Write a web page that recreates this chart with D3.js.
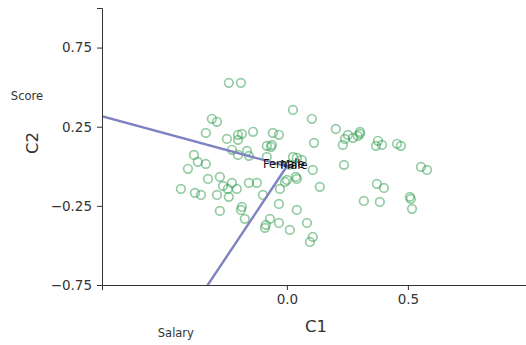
<!DOCTYPE html>
<html><head><meta charset="utf-8">
<script src="https://cdn.jsdelivr.net/npm/d3@7"></script>
<style>body{margin:0;background:#fff}svg{display:block;font-family:"DejaVu Sans",sans-serif}</style>
</head><body><svg id="c" width="526" height="345"></svg>
<script>
// Scores on the first two components
const pcX = [-0.240,-0.190,0.025,0.103,-0.310,-0.289,-0.335,-0.140,-0.202,-0.186,-0.202,-0.248,-0.058,-0.033,-0.083,-0.066,-0.062,-0.227,-0.165,-0.202,-0.157,-0.083,0.112,0.202,0.231,0.240,0.252,0.273,0.293,0.302,0.302,0.368,0.376,0.393,0.455,0.471,0.236,0.554,0.579,-0.384,-0.368,-0.335,-0.409,0.025,0.041,0.062,0.107,0.037,0.041,-0.008,-0.326,-0.277,-0.264,-0.227,-0.207,-0.244,-0.240,-0.157,-0.124,-0.438,-0.380,-0.355,-0.289,-0.029,0.136,-0.099,0.372,0.401,0.318,0.384,0.508,0.512,0.517,-0.033,0.041,-0.186,-0.190,-0.174,-0.277,-0.070,-0.033,-0.087,-0.091,0.083,0.012,0.107,0.095,0.000,0.010];
const pcY = [0.527,0.527,0.356,0.300,0.300,0.281,0.211,0.218,0.199,0.205,0.167,0.173,0.211,0.199,0.129,0.123,0.135,0.104,0.097,0.072,0.066,0.059,0.148,0.236,0.135,0.173,0.198,0.180,0.192,0.217,0.205,0.129,0.161,0.135,0.142,0.129,0.009,-0.004,-0.023,0.072,0.028,0.015,-0.016,0.059,0.053,0.040,-0.023,-0.067,-0.080,-0.099,-0.080,-0.067,-0.124,-0.105,-0.143,-0.143,-0.193,-0.105,-0.105,-0.143,-0.168,-0.181,-0.181,-0.143,-0.130,-0.181,-0.111,-0.137,-0.219,-0.225,-0.193,-0.206,-0.269,-0.238,-0.276,-0.257,-0.276,-0.332,-0.282,-0.332,-0.358,-0.370,-0.389,-0.358,-0.402,-0.446,-0.478,-0.086,0.010];
// Variable loadings
const features = ["Score","Salary","Female","Male"];
const loadX = [-0.934,-0.399,-0.011,0.025];
const loadY = [0.387,-0.915,0.013,0.008];
const xTicks = [0.0,0.5];
const yTicks = [-0.75,-0.25,0.25,0.75];

const svg = d3.select("#c");
const L=102, R=526, T=8, B=285;
const x = d3.scaleLinear().domain([-0.764,0.988]).range([L,R]);
const y = d3.scaleLinear().domain([-0.75,1.0]).range([B,T]);

svg.append("defs").append("clipPath").attr("id","clip")
  .append("rect").attr("x",L).attr("y",T).attr("width",R-L).attr("height",B-T);

// points
svg.append("g").selectAll("circle").data(pcX).join("circle")
  .attr("cx",(d)=>x(d)).attr("cy",(d,i)=>y(pcY[i])).attr("r",4.3)
  .attr("fill","none").attr("stroke","#2a9a48").attr("stroke-opacity",0.5).attr("stroke-width",1.7);

// loading lines
svg.append("g").attr("clip-path","url(#clip)").selectAll("line").data(features).join("line")
  .attr("x1",x(0)).attr("y1",y(0))
  .attr("x2",(d,i)=>x(loadX[i])).attr("y2",(d,i)=>y(loadY[i]))
  .attr("stroke","#7f82c2").attr("stroke-width",2.4);

// loading labels
svg.append("g").selectAll("text").data(features).join("text")
  .attr("x",(d,i)=>x(loadX[i]*1.15)).attr("y",(d,i)=>y(loadY[i]*1.15))
  .attr("text-anchor","middle").attr("dominant-baseline","central")
  .attr("font-size",11.5).attr("fill",(d,i)=>i<2?"#333":"#111")
  .text(d=>d);

// axes
const xa = svg.append("g").attr("transform",`translate(0,${B})`)
  .call(d3.axisBottom(x).tickValues(xTicks).tickFormat(d3.format(".1f")).tickSizeOuter(0).tickSize(5).tickPadding(4));
const ya = svg.append("g").attr("transform",`translate(${L},0)`)
  .call(d3.axisLeft(y).tickValues(yTicks).tickFormat(d=>d3.format(".2f")(d).replace("-","\u2212")).tickSizeOuter(0).tickSize(5).tickPadding(5));
[xa,ya].forEach(g=>{
  g.select(".domain").attr("stroke","#333");
  g.selectAll(".tick line").attr("stroke","#333");
  g.selectAll(".tick text").attr("font-size",13.5).attr("fill","#333").attr("font-family","DejaVu Sans");
});
// extend left spine to the top
svg.append("text").attr("x",316).attr("y",332).attr("text-anchor","middle")
  .attr("font-size",16.5).attr("fill","#333").text("C1");
svg.append("text").attr("transform","translate(38,143) rotate(-90)").attr("text-anchor","middle")
  .attr("font-size",16.5).attr("fill","#333").text("C2");
</script></body></html>
